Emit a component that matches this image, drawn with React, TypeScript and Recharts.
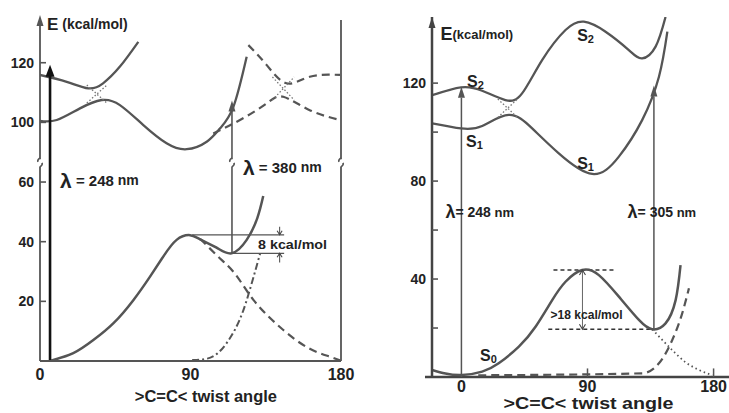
import React from 'react';
import { LineChart, Line, XAxis, YAxis, ReferenceLine, ReferenceDot } from 'recharts';

const FONT = "'Liberation Sans', Arial, Helvetica, sans-serif";
const CURVE = '#555';
const TEXT = '#222';

// ---------------- Left panel ----------------
// energies >= 80 sit above the axis break and are drawn 20 units lower
const leftXTicks = [0, 90, 180];
const leftYTicks = [20, 40, 60, 80, 100];
const leftYTickLabels = ['20', '40', '60', '100', '120'];

// [twist angle, E kcal/mol]
const leftS0 = [[6, 0], [19.9, 2.6], [31.9, 7], [43.8, 12.6], [55.8, 20.4], [65.8, 28.3], [73.7, 35], [81.7, 40.6], [89.7, 42.2], [95.7, 40.8], [105.6, 38], [114.6, 36.1], [123.6, 40.6], [130, 48], [133.5, 55.3]];
const leftS0Dashed = [[95.7, 41], [105.6, 35.5], [115.5, 30], [127.6, 20.5], [145.5, 10.4], [160, 4.5], [175.5, 1], [179.5, 0.2]];
const leftDashDot = [[91, 0.3], [100, 0.8], [111.6, 6], [121.6, 17], [127.6, 28], [131.6, 36]];
const leftUpper = [[0, 115.9], [16, 113.6], [28.9, 111.4], [37.7, 113.1], [47.8, 118.7], [58.8, 127]];
const leftLower = [[0, 100.5], [10, 100.8], [23.9, 104.7], [36.9, 107.5], [47.8, 105.8], [61.8, 99.1], [75.7, 93], [87.7, 91], [99.7, 93.5], [107.7, 98], [115.7, 105.3], [123.6, 122]];
const leftDashedA = [[124.6, 125.9], [135.6, 119.2], [147.5, 113.1], [161.3, 115.3], [179.4, 115.9]];
const leftDashedB = [[103.6, 96.3], [119.6, 100.8], [135.6, 106.4], [145.5, 108.6], [161.3, 104.1], [179.4, 100.8]];
const leftCross1a = [[28, 112.5], [40, 106.5]];
const leftCross1b = [[28, 106.5], [40, 112.5]];
const leftCross2a = [[139, 115.2], [152, 107.5]];
const leftCross2b = [[139, 107.5], [152, 115.2]];

// ---------------- Right panel ----------------
const rightXTicks = [0, 90, 180];
const rightYTicks = [20, 40, 60, 80, 100, 120];
const rightYTickLabels = ['', '40', '', '80', '', '120'];

const rightS2 = [[-20.9, 115.1], [-0.2, 118.3], [14.8, 116.9], [31.4, 113.1], [43.3, 115.8], [57.6, 129.4], [74.3, 141.7], [87.4, 145.1], [102.9, 141], [119.5, 133.5], [129, 130.1], [138.6, 134.9], [145.7, 147]];
const rightS1 = [[-20.9, 103.6], [-0.2, 101.5], [14.8, 102.5], [33.8, 107], [50.5, 101.5], [69.5, 91.3], [93.4, 82.9], [112.4, 90], [129, 104.9], [141, 122.6], [147, 141]];
const rightS0 = [[-20.9, 2.9], [-11.4, 1.4], [0.5, 0.8], [14.8, 2.2], [26.6, 5.6], [41, 12.4], [52.9, 20.5], [64.8, 31.4], [74.3, 38.9], [86.2, 43.7], [98.1, 41.6], [112.4, 32.8], [126.7, 23.3], [136.2, 19.5], [145.7, 21.9], [152.9, 31.4], [156.4, 45.7]];
const rightS0Dotted = [[136.2, 19.5], [150.5, 11], [160, 6], [169.5, 2.9], [179, 0.8]];
const rightDashed = [[12, 0.7], [129, 1.5], [141, 5.6], [150.5, 15.1], [157.6, 26], [162.4, 36.2]];
const rightCrossA = [[26, 113.5], [40, 106]];
const rightCrossB = [[26, 106], [40, 113.5]];

const leftDisp = (e: number) => (e >= 80 ? e - 20 : e);
const pts = (arr: number[][], f: (e: number) => number = (e) => e) => arr.map(([x, y]) => ({ x, y: f(y) }));

// ---------------- shapes ----------------
const arrowHead = (w: number, h: number, fill: string) => (p: any) => (
  <path d={`M${p.cx},${p.cy} L${p.cx - w / 2},${p.cy + h} L${p.cx + w / 2},${p.cy + h} Z`} fill={fill} />
);
const chevron = (dir: 'up' | 'down', w = 6, h = 5) => (p: any) => {
  const s = dir === 'up' ? 1 : -1;
  return <path d={`M${p.cx - w / 2},${p.cy + s * h} L${p.cx},${p.cy} L${p.cx + w / 2},${p.cy + s * h}`} fill="none" stroke="#444" strokeWidth={1.1} />;
};
const breakMark = (p: any) => (
  <g stroke={CURVE} strokeWidth={1.6} fill="none">
    <path d={`M${p.cx},${p.cy - 5} q-3,2 -2,4`} />
    <path d={`M${p.cx},${p.cy + 4} q3,-2 2,-4`} />
  </g>
);
type LOpts = { anchor?: 'start' | 'middle' | 'end'; size?: number; len?: number; dy?: number };
const label = (content: React.ReactNode, o: LOpts = {}) => (p: any) => (
  <text
    x={p.cx}
    y={p.cy}
    dy={o.dy ?? 0}
    textAnchor={o.anchor ?? 'start'}
    dominantBaseline="central"
    fontFamily={FONT}
    fontSize={o.size ?? 14}
    fontWeight={700}
    fill={TEXT}
    textLength={o.len}
    lengthAdjust={o.len ? 'spacingAndGlyphs' : undefined}
  >
    {content}
  </text>
);
const sLabel = (n: string) => (
  <>
    <tspan>S</tspan>
    <tspan fontSize={11} dy={4}>{n}</tspan>
  </>
);

const makeYTick = (ticks: number[], labels: string[]) => (p: any) => {
  const i = ticks.indexOf(p.payload.value);
  const txt = i >= 0 ? labels[i] : '';
  return (
    <g>
      <text x={p.x} y={p.y} textAnchor="end" dominantBaseline="central" fontFamily={FONT} fontSize={14} fontWeight={700} fill={TEXT}>
        {txt}
      </text>
      <line x1={p.x + 6} x2={p.x + 12} y1={p.y} y2={p.y} stroke={CURVE} strokeWidth={1.6} />
    </g>
  );
};

const xTickStyle = { fontSize: 16, fontWeight: 700, fill: TEXT, fontFamily: FONT };

const seg = (x1: number, y1: number, x2: number, y2: number, stroke = CURVE, w = 1.8, dash?: string) => (
  <ReferenceLine segment={[{ x: x1, y: y1 }, { x: x2, y: y2 }]} stroke={stroke} strokeWidth={w} strokeDasharray={dash} ifOverflow="visible" />
);
const dot = (x: number, y: number, shape: any) => <ReferenceDot x={x} y={y} r={0} ifOverflow="visible" shape={shape} />;

const curve = (data: { x: number; y: number }[], o: { w?: number; dash?: string; color?: string; type?: any } = {}) => (
  <Line data={data} dataKey="y" type={o.type ?? 'natural'} stroke={o.color ?? CURVE} strokeWidth={o.w ?? 2.3}
    strokeDasharray={o.dash} dot={false} activeDot={false} isAnimationActive={false} />
);

function LeftPanel() {
  return (
    <LineChart width={365} height={413} margin={{ top: 15, right: 24, bottom: 0, left: 0 }}>
      <XAxis type="number" dataKey="x" domain={[0, 180]} ticks={leftXTicks} interval={0} allowDataOverflow
        axisLine={{ stroke: CURVE, strokeWidth: 2 }} tickLine={false} tickSize={0} tickMargin={8} tick={xTickStyle} height={52} />
      <YAxis type="number" domain={[0, 116]} ticks={leftYTicks} interval={0} allowDataOverflow axisLine={false}
        tickLine={false} tickSize={0} tickMargin={6} width={40} tick={makeYTick(leftYTicks, leftYTickLabels)} />

      {/* y axis with break, right border */}
      {seg(0, 0, 0, 65.2)}
      {seg(0, 67.6, 0, 113)}
      {dot(0, 116, arrowHead(7, 11, CURVE))}
      {seg(180, 0, 180, 65.2)}
      {seg(180, 67.6, 180, 114.3)}
      {dot(0, 66.4, breakMark)}
      {dot(180, 66.4, breakMark)}

      {/* 8 kcal/mol bracket */}
      {seg(91, 42.3, 146, 42.3, '#555', 1.2)}
      {seg(114.8, 36.1, 146, 36.1, '#555', 1.2)}
      {seg(143.3, 42.3, 143.3, 45, '#555', 1.1)}
      {seg(143.3, 36.1, 143.3, 33, '#555', 1.1)}
      {dot(143.3, 42.3, chevron('down', 5, 4))}
      {dot(143.3, 36.1, chevron('up', 5, 4))}

      {curve(pts(leftS0), { w: 2.5 })}
      {curve(pts(leftS0Dashed), { dash: '8 5', w: 2.2, type: 'monotone' })}
      {curve(pts(leftDashDot), { dash: '7 3 2 3', w: 2, type: 'monotone' })}
      {curve(pts(leftUpper, leftDisp))}
      {curve(pts(leftLower, leftDisp))}
      {curve(pts(leftDashedA, leftDisp), { dash: '8 5', w: 2.2 })}
      {curve(pts(leftDashedB, leftDisp), { dash: '8 5', w: 2.2 })}
      {curve(pts(leftCross1a, leftDisp), { dash: '1.5 2', w: 1.3, color: '#777', type: 'linear' })}
      {curve(pts(leftCross1b, leftDisp), { dash: '1.5 2', w: 1.3, color: '#777', type: 'linear' })}
      {curve(pts(leftCross2a, leftDisp), { dash: '1.5 2', w: 1.3, color: '#777', type: 'linear' })}
      {curve(pts(leftCross2b, leftDisp), { dash: '1.5 2', w: 1.3, color: '#777', type: 'linear' })}

      {/* excitation arrows */}
      {seg(6, 0, 6, 96, '#111', 2.6)}
      {dot(6, 99.3, arrowHead(9, 12, '#111'))}
      {seg(114.8, 36.1, 114.8, 65.2, CURVE, 1.6)}
      {seg(114.8, 67.6, 114.8, 84.5, CURVE, 1.6)}
      {dot(114.8, 87.3, arrowHead(7, 11, CURVE))}
      {dot(114.8, 66.4, breakMark)}

      {/* texts */}
      {dot(4.2, 113, label(<><tspan fontSize={17}>E</tspan><tspan fontSize={14}> (kcal/mol)</tspan></>))}
      {dot(12, 60.7, label(<><tspan fontSize={21}>λ</tspan><tspan fontSize={15}> = 248</tspan><tspan fontSize={14}> nm</tspan></>))}
      {dot(121.4, 65, label(<><tspan fontSize={21}>λ</tspan><tspan fontSize={15}> = 380</tspan><tspan fontSize={14}> nm</tspan></>))}
      {dot(130.4, 39.2, label('8 kcal/mol', { size: 13, len: 69 }))}
      {dot(99.2, -11.4, label('>C=C< twist angle', { anchor: 'middle', size: 16, len: 142, dy: 1 }))}
    </LineChart>
  );
}

function RightPanel() {
  return (
    <LineChart width={364} height={413} margin={{ top: 17, right: 0, bottom: 0, left: 0 }}>
      <XAxis type="number" dataKey="x" domain={[-21, 191]} ticks={rightXTicks} interval={0} allowDataOverflow
        axisLine={false} tickLine={false} tickSize={0} tickMargin={4} tick={xTickStyle} height={36} />
      <YAxis type="number" domain={[0, 147]} ticks={rightYTicks} interval={0} allowDataOverflow
        axisLine={{ stroke: '#444', strokeWidth: 2.5 }} tickLine={false} tickSize={0} tickMargin={6} width={67}
        tick={makeYTick(rightYTicks, rightYTickLabels)} />

      {seg(-26, 0, 191, 0, '#444', 2.6)}
      {seg(90, 0, 90, 3.5, '#555', 1.5)}
      {seg(180, 0, 180, 3.5, '#555', 1.5)}
      {dot(-21, 147, arrowHead(7, 11, '#444'))}

      {/* barrier markers */}
      {seg(65.7, 43.7, 108.6, 43.7, '#333', 1.3, '4 3')}
      {seg(62, 19.5, 137, 19.5, '#333', 1.3, '4 3')}
      {seg(86.4, 19.5, 86.4, 43.7, '#666', 1)}
      {dot(86.4, 43.7, chevron('up', 6, 5))}
      {dot(86.4, 19.5, chevron('down', 6, 5))}

      {curve(pts(rightS2))}
      {curve(pts(rightS1))}
      {curve(pts(rightS0), { w: 2.5 })}
      {curve(pts(rightS0Dotted), { dash: '1.5 3', w: 1.8, type: 'monotone' })}
      {curve(pts(rightDashed), { dash: '8 5', w: 2.2, type: 'monotone' })}
      {curve(pts(rightCrossA), { dash: '1.5 2', w: 1.3, color: '#777', type: 'linear' })}
      {curve(pts(rightCrossB), { dash: '1.5 2', w: 1.3, color: '#777', type: 'linear' })}

      {/* excitation arrows */}
      {seg(0, 0, 0, 114, '#555', 1.5)}
      {dot(0, 118.5, arrowHead(7, 11, '#555'))}
      {seg(137.4, 19.5, 137.4, 114.5, '#555', 1.5)}
      {dot(137.4, 119, arrowHead(7, 11, '#555'))}

      {/* texts */}
      {dot(-15, 140, label(<><tspan fontSize={18}>E</tspan><tspan fontSize={13}>(kcal/mol)</tspan></>))}
      {dot(-11.4, 67.4, label(<><tspan fontSize={18}>λ</tspan><tspan fontSize={14}>= 248</tspan><tspan fontSize={13}> nm</tspan></>))}
      {dot(118.6, 67.4, label(<><tspan fontSize={18}>λ</tspan><tspan fontSize={14}>= 305</tspan><tspan fontSize={13}> nm</tspan></>))}
      {dot(89.3, 25.3, label('>18 kcal/mol', { anchor: 'middle', size: 12, len: 72 }))}
      {dot(88.6, 139.6, label(sLabel('2'), { anchor: 'middle', size: 16 }))}
      {dot(10, 120.9, label(sLabel('2'), { anchor: 'middle', size: 16 }))}
      {dot(9.3, 96.4, label(sLabel('1'), { anchor: 'middle', size: 16 }))}
      {dot(88.6, 87.4, label(sLabel('1'), { anchor: 'middle', size: 16 }))}
      {dot(19.3, 9, label(sLabel('0'), { anchor: 'middle', size: 16 }))}
      {dot(90.7, -10.6, label('>C=C< twist angle', { anchor: 'middle', size: 16, len: 170, dy: 1 }))}
    </LineChart>
  );
}

export default function App() {
  return (
    <div style={{ position: 'absolute', left: 0, top: 0, width: 729, height: 413, background: '#fff' }}>
      <div style={{ position: 'absolute', left: 0, top: 0 }}>
        <LeftPanel />
      </div>
      <div style={{ position: 'absolute', left: 365, top: 0 }}>
        <RightPanel />
      </div>
    </div>
  );
}
